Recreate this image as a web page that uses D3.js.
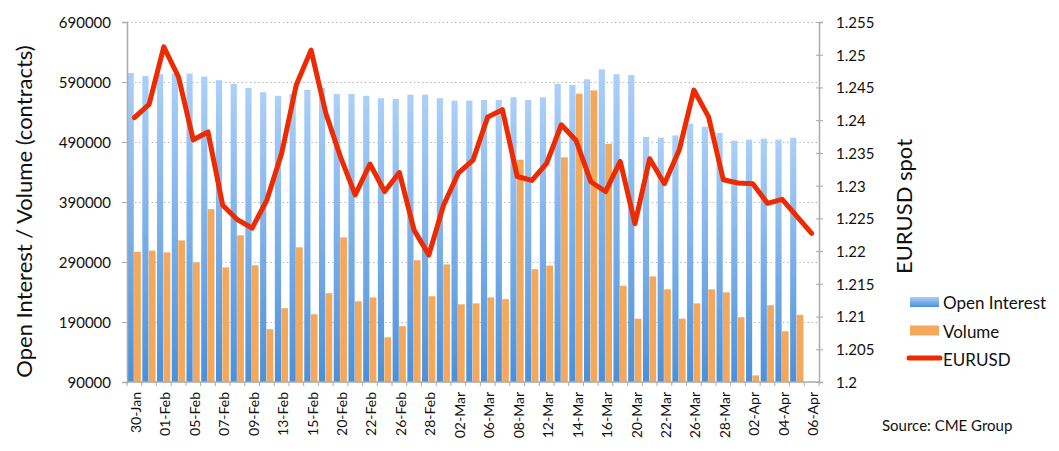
<!DOCTYPE html>
<html>
<head>
<meta charset="utf-8">
<script src="https://cdn.jsdelivr.net/npm/d3@7"></script>
<style>
  body { margin: 0; background: #fff; }
  svg text { font-family: Lato, "Open Sans", sans-serif; fill: #111; }
</style>
</head>
<body>
<script>
var dates = ['30-Jan', '31-Jan', '01-Feb', '02-Feb', '05-Feb', '06-Feb', '07-Feb', '08-Feb', '09-Feb',
  '12-Feb', '13-Feb', '14-Feb', '15-Feb', '16-Feb', '20-Feb', '21-Feb', '22-Feb', '23-Feb', '26-Feb',
  '27-Feb', '28-Feb', '01-Mar', '02-Mar', '05-Mar', '06-Mar', '07-Mar', '08-Mar', '09-Mar', '12-Mar',
  '13-Mar', '14-Mar', '15-Mar', '16-Mar', '19-Mar', '20-Mar', '21-Mar', '22-Mar', '23-Mar', '26-Mar',
  '27-Mar', '28-Mar', '29-Mar', '02-Apr', '03-Apr', '04-Apr', '05-Apr', '06-Apr'];

// 06-Apr has no futures data yet, only the spot rate
var openInterest = [605000, 600000, 603000, 604000, 604000, 599000, 593000, 587000, 580000,
  573000, 567000, 570000, 577000, 580000, 570000, 570000, 567000, 563000, 562000,
  569000, 569000, 563000, 559000, 559000, 560000, 560000, 564500, 560000, 564500,
  586700, 585000, 594500, 611000, 603000, 601700, 498300, 497200, 501000, 520500,
  515500, 505000, 492200, 494000, 495500, 494000, 497200];

var volume = [307000, 309000, 306000, 326000, 289500, 378000, 281000, 334500, 284500,
  178000, 213000, 314500, 203000, 238000, 331000, 224500, 231000, 164500, 183000,
  293000, 233000, 286000, 219500, 221000, 231000, 228000, 460500, 278000, 284000,
  464500, 570500, 576000, 487000, 250500, 195500, 266000, 244500, 195500, 221000,
  244500, 239500, 198000, 101000, 218000, 174500, 202000];

var eurusd = [1.2404, 1.2424, 1.2512, 1.2466, 1.2370, 1.2382, 1.2270, 1.2248, 1.2235,
  1.2278, 1.2349, 1.2454, 1.2507, 1.2411, 1.2344, 1.2286, 1.2333, 1.2291, 1.2320,
  1.2232, 1.2194, 1.2270, 1.2319, 1.2339, 1.2405, 1.2416, 1.2314, 1.2308, 1.2334,
  1.2393, 1.2369, 1.2306, 1.2291, 1.2337, 1.2242, 1.2341, 1.2303, 1.2354, 1.2446,
  1.2405, 1.2309, 1.2304, 1.2303, 1.2273, 1.2279, 1.2253, 1.2227];

var leftTicks = [90000, 190000, 290000, 390000, 490000, 590000, 690000];
var rightTicks = [1.2, 1.205, 1.21, 1.215, 1.22, 1.225, 1.23, 1.235, 1.24, 1.245, 1.25, 1.255];

var legendItems = ['Open Interest', 'Volume', 'EURUSD'];

(function() {
  var w = 1059;
  var h = 451;
  var left = 127, right = 819, top = 22, bottom = 382;

  var svg = d3.select('body').append('svg')
    .attr('width', w)
    .attr('height', h);

  var defs = svg.append('defs');
  var grad = defs.append('linearGradient')
    .attr('id', 'oiGrad')
    .attr('x1', 0).attr('y1', 0).attr('x2', 0).attr('y2', 1);
  grad.append('stop').attr('offset', '0%').attr('stop-color', '#acd0f8');
  grad.append('stop').attr('offset', '100%').attr('stop-color', '#4b90da');

  var xScale = d3.scaleBand()
    .domain(dates)
    .range([left, right]);
  var bw = xScale.bandwidth();

  var yLeft = d3.scaleLinear().domain([90000, 690000]).range([bottom, top]);
  var yRight = d3.scaleLinear().domain([1.2, 1.255]).range([bottom, top]);

  // dotted grid lines behind the bars
  svg.append('g')
    .selectAll('line')
    .data(leftTicks.slice(1))
    .enter()
    .append('line')
    .attr('x1', left)
    .attr('x2', right)
    .attr('y1', d => yLeft(d) + 0.5)
    .attr('y2', d => yLeft(d) + 0.5)
    .attr('stroke', '#b0b0b0')
    .attr('stroke-width', 1.2)
    .attr('stroke-dasharray', '1.3,2.8');

  var oiData = openInterest.map((v, i) => ({ key: dates[i], value: v }));
  var volData = volume.map((v, i) => ({ key: dates[i], value: v }));

  svg.append('g')
    .selectAll('rect')
    .data(oiData)
    .enter()
    .append('rect')
    .attr('x', d => xScale(d.key) + bw * 0.04)
    .attr('y', d => yLeft(d.value))
    .attr('width', bw * 0.42)
    .attr('height', d => bottom - yLeft(d.value))
    .attr('fill', 'url(#oiGrad)');

  svg.append('g')
    .selectAll('rect')
    .data(volData)
    .enter()
    .append('rect')
    .attr('x', d => xScale(d.key) + bw * 0.48)
    .attr('y', d => yLeft(d.value))
    .attr('width', bw * 0.46)
    .attr('height', d => bottom - yLeft(d.value))
    .attr('fill', '#f4a85c');

  // left axis
  var gl = svg.append('g')
    .attr('transform', `translate(${left},0)`)
    .call(d3.axisLeft(yLeft).tickValues(leftTicks).tickSize(5).tickPadding(11).tickFormat(d3.format('d')));
  gl.select('.domain').attr('stroke', '#aaa').attr('stroke-width', 1.5);
  gl.selectAll('.tick line').attr('stroke', '#aaa');
  gl.selectAll('.tick text').attr('font-size', '15px').attr('font-family', null).attr('dy', '0.36em');

  // right axis
  var gr = svg.append('g')
    .attr('transform', `translate(${right},0)`)
    .call(d3.axisRight(yRight).tickValues(rightTicks).tickSize(4).tickPadding(13).tickFormat(d => String(+d.toFixed(3))));
  gr.select('.domain').attr('stroke', '#aaa').attr('stroke-width', 1.5);
  gr.selectAll('.tick line').attr('stroke', '#aaa').attr('x1', -3);
  gr.selectAll('.tick text').attr('font-size', '15px').attr('font-family', null).attr('dy', '0.36em');

  // bottom axis with ticks between categories
  var gb = svg.append('g');
  gb.append('line')
    .attr('x1', left).attr('x2', right)
    .attr('y1', bottom).attr('y2', bottom)
    .attr('stroke', '#aaa').attr('stroke-width', 1.5);
  gb.selectAll('line.tk')
    .data(dates.concat(['end']))
    .enter()
    .append('line')
    .attr('class', 'tk')
    .attr('x1', d => d === 'end' ? right : xScale(d))
    .attr('x2', d => d === 'end' ? right : xScale(d))
    .attr('y1', bottom)
    .attr('y2', bottom + 4)
    .attr('stroke', '#aaa');

  gb.selectAll('text')
    .data(dates.filter((d, i) => i % 2 === 0))
    .enter()
    .append('text')
    .attr('transform', d => `translate(${xScale(d) + bw / 2 + 1.5},${bottom + 10}) rotate(-90)`)
    .attr('text-anchor', 'end')
    .attr('dy', '0.36em')
    .attr('font-size', '14px')
    .text(d => d);

  // EURUSD line
  var line = d3.line()
    .x((d, i) => xScale(dates[i]) + bw / 2)
    .y(d => yRight(d));

  svg.append('path')
    .datum(eurusd)
    .attr('d', line)
    .attr('fill', 'none')
    .attr('stroke', '#ee2a00')
    .attr('stroke-width', 5)
    .attr('stroke-linejoin', 'round')
    .attr('stroke-linecap', 'round');

  // axis titles
  svg.append('text')
    .attr('transform', 'translate(32,211.5) rotate(-90)')
    .attr('text-anchor', 'middle')
    .attr('font-size', '22px')
    .text('Open Interest / Volume (contracts)');

  svg.append('text')
    .attr('transform', 'translate(912,206.5) rotate(-90)')
    .attr('text-anchor', 'middle')
    .attr('font-size', '22px')
    .text('EURUSD spot');

  // legend
  var lg = svg.append('g');
  lg.append('rect').attr('x', 910).attr('y', 297).attr('width', 29).attr('height', 10).attr('fill', 'url(#oiGrad)');
  lg.append('rect').attr('x', 910).attr('y', 325.5).attr('width', 29).attr('height', 10).attr('fill', '#f4a85c');
  lg.append('line').attr('x1', 909).attr('x2', 940).attr('y1', 358).attr('y2', 358)
    .attr('stroke', '#ee2a00').attr('stroke-width', 5).attr('stroke-linecap', 'round');
  lg.selectAll('text')
    .data(legendItems)
    .enter()
    .append('text')
    .attr('x', 943)
    .attr('y', (d, i) => 309 + i * 28.5)
    .attr('font-size', '17px')
    .text(d => d);

  svg.append('text')
    .attr('x', 882)
    .attr('y', 431)
    .attr('font-size', '15px')
    .text('Source: CME Group');
})();
</script>
</body>
</html>
